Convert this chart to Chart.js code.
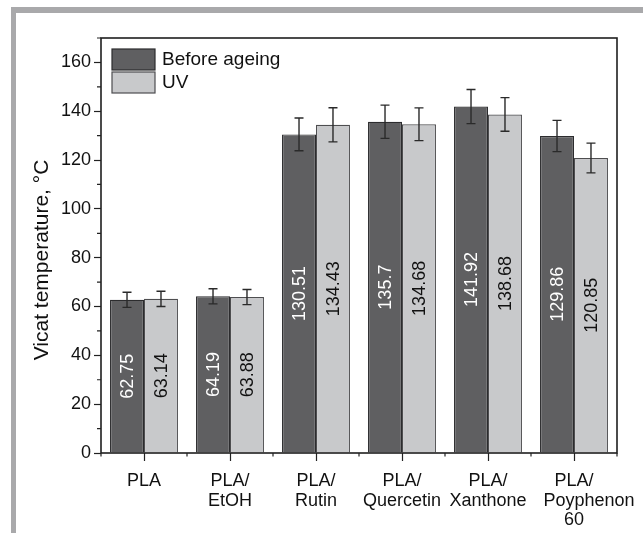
<!DOCTYPE html>
<html>
<head>
<meta charset="utf-8">
<script src="https://cdn.jsdelivr.net/npm/chart.js@4/dist/chart.umd.min.js"></script>
<style>
  html, body { margin: 0; padding: 0; background: #fff; }
  #wrap { position: relative; width: 643px; height: 533px; overflow: hidden; }
  #frame { position: absolute; left: 11px; top: 7px; right: 0; bottom: 0;
           border-top: 6px solid #a9a9ab; border-left: 5px solid #a9a9ab; }
  canvas { position: absolute; left: 0; top: 0; }
</style>
</head>
<body>
<div id="wrap">
  <div id="frame"></div>
  <canvas id="c" width="643" height="533"></canvas>
</div>
<script>
// Samples (multi-line axis labels)
const categories = [
  ['PLA'],
  ['PLA/', 'EtOH'],
  ['PLA/', 'Rutin'],
  ['PLA/', 'Quercetin'],
  ['PLA/', 'Xanthone'],
  ['PLA/', '      Poyphenon', '60']
];
const seriesNames = ['Before ageing', 'UV'];
// Vicat softening temperature, °C
const beforeAgeing = [62.75, 64.19, 130.51, 135.7, 141.92, 129.86];
const uvAged       = [63.14, 63.88, 134.43, 134.68, 138.68, 120.85];
// Standard deviations (error bars)
const beforeErr = [3.1, 3.1, 6.7, 6.8, 7.0, 6.4];
const uvErr     = [3.1, 3.1, 7.0, 6.7, 6.9, 6.1];
const yTitle = 'Vicat temperature, °C';
const yMajorTicks = [0, 20, 40, 60, 80, 100, 120, 140, 160];

const FONT = "'Liberation Sans', Arial, Helvetica, sans-serif";
const DARK = '#5f5f61', LIGHT = '#c8c9cb';

const decorations = {
  id: 'decorations',
  afterDatasetsDraw(chart) {
    const { ctx, chartArea: a, scales: { x, y } } = chart;
    ctx.save();

    // error bars
    chart.data.datasets.forEach((ds, di) => {
      const meta = chart.getDatasetMeta(di);
      meta.data.forEach((bar, i) => {
        const v = ds.data[i], e = ds.errors[i];
        const yt = y.getPixelForValue(v + e), yb = y.getPixelForValue(v - e);
        ctx.strokeStyle = '#2a2a2a';
        ctx.lineWidth = 1.4;
        ctx.beginPath();
        ctx.moveTo(bar.x, yt); ctx.lineTo(bar.x, yb);
        ctx.moveTo(bar.x - 4.5, yt); ctx.lineTo(bar.x + 4.5, yt);
        ctx.moveTo(bar.x - 4.5, yb); ctx.lineTo(bar.x + 4.5, yb);
        ctx.stroke();
      });
    });

    // value labels, rotated, centred in each bar
    chart.data.datasets.forEach((ds, di) => {
      const meta = chart.getDatasetMeta(di);
      meta.data.forEach((bar, i) => {
        ctx.save();
        ctx.translate(bar.x, (bar.y + bar.base) / 2);
        ctx.rotate(-Math.PI / 2);
        ctx.font = '18px ' + FONT;
        ctx.fillStyle = ds.labelColor;
        ctx.textAlign = 'center';
        ctx.textBaseline = 'middle';
        ctx.fillText(String(ds.data[i]), 0, 1);
        ctx.restore();
      });
    });

    // plot frame
    ctx.strokeStyle = '#1e1e1e';
    ctx.lineWidth = 1.6;
    ctx.strokeRect(a.left, a.top, a.right - a.left, a.bottom - a.top);

    // minor ticks on y (odd tens) and x (category boundaries)
    ctx.lineWidth = 1.2;
    ctx.strokeStyle = '#222';
    ctx.beginPath();
    for (let v = 10; v <= y.max; v += 20) {
      const py = y.getPixelForValue(v);
      ctx.moveTo(a.left - 4, py); ctx.lineTo(a.left, py);
    }
    const n = chart.data.labels.length;
    const step = (a.right - a.left) / n;
    for (let k = 0; k <= n; k++) {
      const px = a.left + k * step;
      ctx.moveTo(px, a.bottom); ctx.lineTo(px, a.bottom + 3.5);
    }
    ctx.stroke();

    // legend inside the plot area
    const lx = a.left + 11, ly = a.top + 11;
    chart.data.datasets.forEach((ds, di) => {
      const by = ly + di * 23;
      ctx.fillStyle = ds.backgroundColor;
      ctx.fillRect(lx, by, 43, 21);
      ctx.strokeStyle = ds.borderColor;
      ctx.lineWidth = 1.2;
      ctx.strokeRect(lx, by, 43, 21);
      ctx.fillStyle = '#111';
      ctx.font = '19px ' + FONT;
      ctx.textAlign = 'left';
      ctx.textBaseline = 'middle';
      ctx.fillText(ds.label, lx + 50, by + 11);
    });

    // y-axis title
    ctx.save();
    ctx.translate(48, 260);
    ctx.rotate(-Math.PI / 2);
    ctx.font = '21px ' + FONT;
    ctx.fillStyle = '#111';
    ctx.textAlign = 'center';
    ctx.textBaseline = 'alphabetic';
    ctx.fillText(yTitle, 0, 0);
    ctx.restore();

    ctx.restore();
  }
};

new Chart(document.getElementById('c'), {
  type: 'bar',
  data: {
    labels: categories,
    datasets: [
      { label: seriesNames[0], data: beforeAgeing, errors: beforeErr,
        backgroundColor: DARK, borderColor: '#2c2c2e', borderWidth: 1.2,
        labelColor: '#ffffff', barPercentage: 1.0, categoryPercentage: 0.79 },
      { label: seriesNames[1], data: uvAged, errors: uvErr,
        backgroundColor: LIGHT, borderColor: '#4e4e50', borderWidth: 1.2,
        labelColor: '#111111', barPercentage: 1.0, categoryPercentage: 0.79 }
    ]
  },
  options: {
    responsive: false,
    animation: false,
    devicePixelRatio: 1,
    layout: { padding: { top: 38, right: 26, left: 0, bottom: 0 } },
    plugins: { legend: { display: false }, tooltip: { enabled: false } },
    scales: {
      x: {
        grid: { offset: false, drawOnChartArea: false, tickLength: 8, tickColor: '#222', tickWidth: 1.2 },
        border: { display: false },
        ticks: { font: { size: 18, family: FONT, lineHeight: 1.1 }, color: '#111',
                 padding: 10, maxRotation: 0, autoSkip: false },
        afterFit(s) { s.height = 80; s.paddingLeft = 0; s.paddingRight = 0; }
      },
      y: {
        min: 0, max: 170,
        grid: { drawOnChartArea: false, tickLength: 7, tickColor: '#222', tickWidth: 1.2 },
        border: { display: false },
        ticks: { font: { size: 18, family: FONT }, color: '#111', padding: 3, stepSize: 20 },
        afterBuildTicks(s) { s.ticks = yMajorTicks.map(v => ({ value: v })); },
        afterFit(s) { s.width = 101; s.paddingTop = 0; s.paddingBottom = 0; }
      }
    }
  },
  plugins: [decorations]
});
</script>
</body>
</html>
